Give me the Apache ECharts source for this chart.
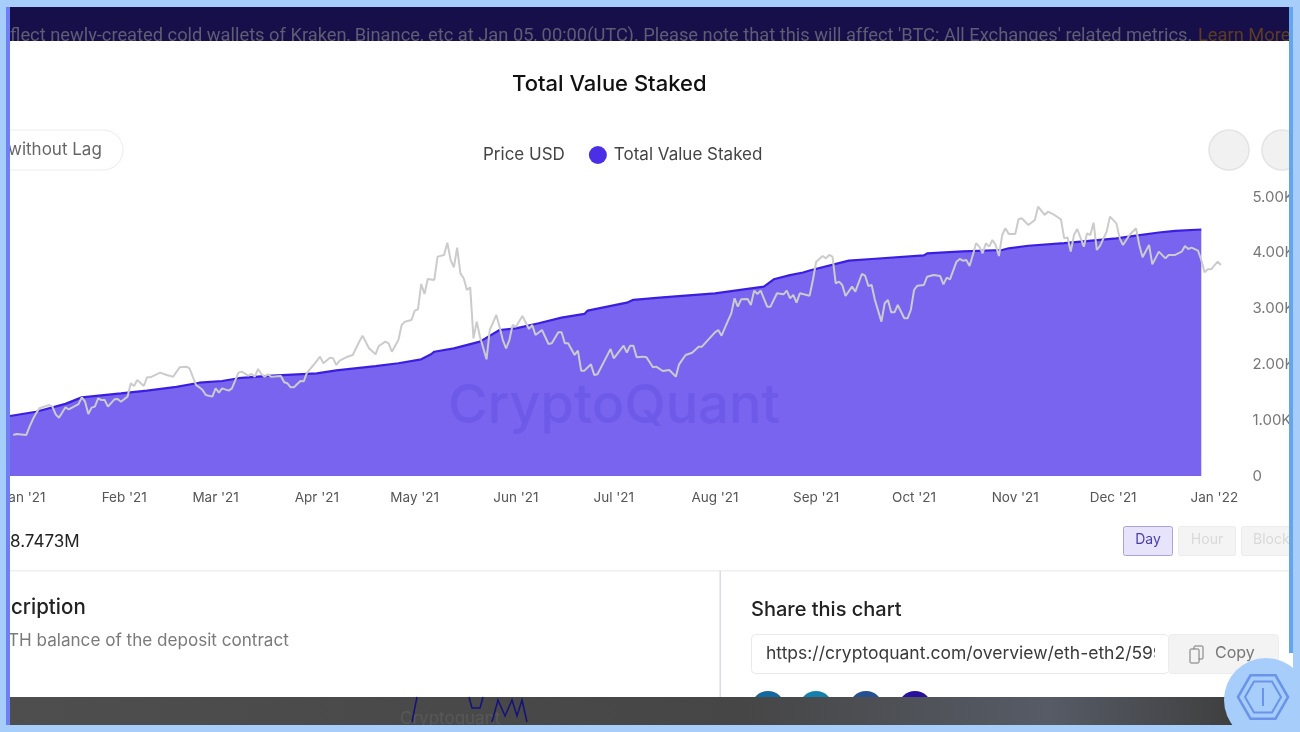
<!DOCTYPE html>
<html><head><meta charset="utf-8">
<style>html,body{margin:0;padding:0;background:#fff}#c{width:1300px;height:732px}</style>
<script src="https://cdn.jsdelivr.net/npm/echarts@6/dist/echarts.min.js"></script>
</head><body><div id="c"></div>
<script>
// Days counted from 1 Jan 2021
const priceDays=[-3,-2,1,2,3,4,5,8,9,10,11,13,14,17,18,19,20,21,22,23,24,25,26,28,29,30,32,33,34,35,37,38,39,42,44,46,48,50,51,53,54,55,56,58,59,60,61,63,64,66,67,69,70,71,72,73,74,75,76,79,80,81,82,83,85,86,87,89,91,92,94,95,96,97,99,101,103,104,106,108,109,111,112,113,115,116,117,119,120,121,122,123,124,126,127,129,130,131,132,133,134,135,136,137,138,139,140,142,143,145,146,147,148,149,150,151,153,155,156,157,159,161,162,164,165,166,167,169,170,171,172,174,175,176,178,180,181,184,185,186,187,188,190,191,193,194,196,198,200,201,203,205,207,208,212,213,214,216,217,218,219,220,222,223,224,225,226,228,229,231,233,234,235,236,237,238,241,242,243,245,246,247,248,249,250,251,252,254,255,257,258,259,260,261,263,264,265,266,267,268,270,271,272,273,274,276,277,279,281,282,283,284,286,287,288,289,290,291,292,293,294,295,296,297,298,299,300,301,302,304,305,306,308,310,311,313,314,316,318,319,320,321,322,323,325,326,327,328,329,330,332,333,335,336,337,339,341,342,343,345,346,348,350,351,353,355,356,357,358,360,361,362,363,364,366,367];
const priceUsd=[735,753,735,884,1016,1123,1213,1272,1243,1105,1045,1231,1195,1290,1410,1332,1111,1225,1243,1392,1362,1362,1243,1374,1380,1332,1422,1661,1613,1720,1613,1768,1768,1852,1810,1780,1948,1960,1930,1631,1589,1541,1452,1422,1571,1494,1571,1529,1571,1852,1870,1798,1828,1780,1918,1828,1780,1822,1780,1792,1679,1661,1589,1589,1703,1697,1852,1989,2139,2019,2121,2109,1989,2067,2127,2169,2407,2515,2288,2181,2330,2407,2378,2228,2437,2706,2766,2796,2963,2987,3441,3262,3531,3513,3931,3961,4182,3871,3740,4092,3632,3543,3333,3381,2467,2766,2497,2091,2617,2885,2676,2437,2288,2437,2706,2676,2868,2635,2706,2527,2617,2366,2378,2575,2575,2378,2378,2169,2246,1888,1888,2001,1810,1822,2049,2276,2109,2336,2210,2336,2336,2127,2139,2127,1948,1960,1882,1900,1780,2001,2169,2210,2318,2318,2575,2617,2515,2784,2915,3184,3035,3166,3172,3065,3322,3262,3322,3035,3035,3274,3256,3322,3184,3244,3106,3274,3232,3513,3841,3943,3901,3961,3931,3453,3483,3423,3226,3393,3304,3620,3590,3405,3423,3154,2766,3095,3154,2933,2933,3065,2826,2826,2975,3333,3411,3423,3572,3602,3584,3435,3555,3525,3841,3889,3859,3871,3764,3961,4170,4110,3991,4170,4110,4230,4140,3943,4319,4439,4337,4337,4600,4618,4498,4588,4827,4678,4737,4678,4600,4259,4277,4021,4319,4427,4110,4349,4319,4540,4050,4128,4379,4648,4528,4259,4140,4319,4439,4140,3919,4140,3793,4021,3901,3961,3961,4021,4122,4068,4092,4038,3871,3650,3704,3704,3841,3782];
const stakedDays=[-4,4,13,18,30,38,47,54,61,66,75,90,96,108,115,122,125,126,132,140,146,151,158,165,172,173,185,187,196,212,227,230,235,239,241,253,260,276,277,288,300,302,308,319,335,341,348,353,361];
const stakedM=[2.13,2.28,2.56,2.79,2.93,3.03,3.16,3.31,3.37,3.47,3.55,3.64,3.75,3.90,4.00,4.14,4.32,4.41,4.53,4.77,5.18,5.24,5.42,5.62,5.75,5.87,6.15,6.25,6.34,6.48,6.72,6.98,7.13,7.22,7.29,7.64,7.70,7.83,7.90,7.97,8.02,8.08,8.17,8.26,8.43,8.53,8.64,8.70,8.7473];
const monthDays=[0,31,59,90,120,151,181,212,243,273,304,334,365];
const monthLabels=["Jan '21","Feb '21","Mar '21","Apr '21","May '21","Jun '21","Jul '21","Aug '21","Sep '21","Oct '21","Nov '21","Dec '21","Jan '22"];

const FONT='Inter';
const LIGHT='#a7cdfa';

function txt(x,y,text,size,fill,extra){return Object.assign({type:'text',silent:true,z:50,style:{x,y:y+1,text,fill,font:(extra&&extra.weight||400)+' '+size+'px '+(extra&&extra.family||FONT),verticalAlign:'middle',align:(extra&&extra.align)||'left'}},extra&&extra.z?{z:extra.z}:{});}
function rect(x,y,w,h,fill,z,stroke,r){return {type:'rect',silent:true,z:z||40,shape:{x,y,width:w,height:h,r:r||0},style:{fill,stroke:stroke||null,lineWidth:stroke?1:0}};}
function circ(cx,cy,r,fill,z,stroke){return {type:'circle',silent:true,z:z||40,shape:{cx,cy,r},style:{fill,stroke:stroke||null,lineWidth:stroke?1.5:0}};}
function hex(cx,cy,r,z,lw){const p=[];for(let i=0;i<6;i++){const a=Math.PI/3*i;p.push([cx+r*Math.cos(a),cy+r*Math.sin(a)]);}
 return {type:'polygon',silent:true,z,shape:{points:p},style:{fill:null,stroke:'#6a93ea',lineWidth:lw}};}

const stripGradient=new echarts.graphic.LinearGradient(0,0,1,0,[
 {offset:0,color:'#4e4e4e'},{offset:0.6,color:'#464646'},{offset:0.85,color:'#565b66'},{offset:1,color:'#3f3f3f'}]);

const overlay=[
 txt(614,406,'CryptoQuant',54,'rgba(72,52,214,0.2)',{weight:500,align:'center'}),
 rect(0,0,1300,41,'#170f4a',60),
 txt(10,35,"flect newly-created cold wallets of Kraken, Binance, etc at Jan 05, 00:00(UTC). Please note that this will affect 'BTC: All Exchanges' related metrics.",18.3,'#5f5c74',{family:'Roboto',z:61}),
 txt(1198,35,'Learn More',18.3,'#5c3d22',{family:'Roboto',z:61}),
 rect(0,41,1300,12,'#ffffff',62),
 rect(-40,130,163,40,'#ffffff',40,'#ececec',20),
 txt(8,149,'without Lag',17,'#666666'),
 circ(1229,150,20,'#f1f1f1',40,'#e4e4e4'),
 circ(1282,150,20,'#f1f1f1',40,'#e4e4e4'),
 txt(10,541,'8.7473M',17,'#222222'),
 rect(1123.5,526.5,49,29,'#e6e3fa',40,'#aaa2e2',2),
 txt(1148,539,'Day',14,'#4a3fa8',{align:'center'}),
 rect(1178.5,526.5,57,29,'#f4f4f4',40,'#ececec',2),
 txt(1207,539,'Hour',14,'#d9d9d9',{align:'center'}),
 rect(1241.5,526.5,60,29,'#f4f4f4',40,'#ececec',2),
 txt(1253,539,'Block',14,'#d9d9d9'),
 rect(10,570,1280,1.5,'#efefef',40),
 txt(11,607,'cription',20.5,'#222222',{weight:500}),
 txt(8,640,'TH balance of the deposit contract',17.1,'#7a7a7a'),
 rect(719.5,571,1.5,126,'#d9d9f0',40),
 txt(751,609,'Share this chart',20,'#222222',{weight:500}),
 rect(751.5,634.5,417,39,'#ffffff',40,'#e9e9e9',4),
 txt(766,653,'https://cryptoquant.com/overview/eth-eth2/599',17.5,'#3a3a3a'),
 rect(1155,636,13,36,'#ffffff',51),
 rect(1168.5,634.5,110,39,'#f3f3f3',52,'#ececec',4),
 rect(1194,646,9,13,'#f3f3f3',53,'#777777',1),
 rect(1190,649,9,14,'#f3f3f3',54,'#777777',1),
 txt(1215,652,'Copy',16,'#777777',{z:55}),
 circ(768,708,17,'#13699f',40),circ(816,708,17,'#1480ad',40),circ(866,708,17,'#26508f',40),circ(915,708,17,'#2a109f',40),
 rect(10,697,1222,28,stripGradient,70),
 rect(1232,697,60,28,'#7f97b8',70),
 txt(400,718,'Cryptoquant',17,'#585858',{z:71}),
 {type:'polyline',silent:true,z:71,shape:{points:[[417,697],[414,712],[412,722]]},style:{stroke:'#16107c',lineWidth:1.5,fill:null}},
 {type:'polyline',silent:true,z:71,shape:{points:[[469,697],[472,708],[480,708],[483,697]]},style:{stroke:'#16107c',lineWidth:1.5,fill:null}},
 {type:'polyline',silent:true,z:71,shape:{points:[[492,722],[498,700],[505,716],[512,700],[517,716],[522,700],[527,722]]},style:{stroke:'#16107c',lineWidth:1.5,fill:null}},
 rect(0,0,1300,7,LIGHT,90),rect(0,725,1300,7,LIGHT,90),
 rect(0,0,6,732,LIGHT,90),rect(6,7,4,718,'#6f80f2',90),
 rect(1293,0,7,732,LIGHT,90),rect(1289,7,4,646,'#64a5ee',90),
 circ(1266,700,42,LIGHT,91),
 hex(1263,697,25,92,2.5),hex(1263,697,18,92,2),
 rect(1262,688,2,18,'#6a93ea',93)
];

const chart=echarts.init(document.getElementById('c'),null,{renderer:'canvas'});
chart.setOption({
 animation:false,
 backgroundColor:'#ffffff',
 textStyle:{fontFamily:FONT},
 title:{text:'Total Value Staked',left:507,top:68,textStyle:{fontFamily:FONT,fontSize:22,fontWeight:500,color:'#111111'}},
 legend:{left:453,top:141,itemWidth:18,itemHeight:18,itemGap:24,icon:'circle',
   textStyle:{fontFamily:FONT,fontSize:17,color:'#444444',padding:[0,0,0,2]},
   data:[{name:'Price USD',itemStyle:{color:'rgba(0,0,0,0)'}},{name:'Total Value Staked',itemStyle:{color:'#4b2fe6'}}]},
 grid:{left:10,right:72.6,top:197,bottom:256,outerBoundsMode:'none'},
 xAxis:{type:'value',min:-4,max:369,
   axisLine:{show:false},axisTick:{show:false},splitLine:{show:false},
   axisLabel:{customValues:monthDays,margin:15,fontSize:13.5,color:'#555555',hideOverlap:false,showMinLabel:true,showMaxLabel:true,
     formatter:v=>monthLabels[monthDays.indexOf(+v)]||''}},
 yAxis:[
  {type:'value',position:'right',min:0,max:5000,interval:1000,
   axisLine:{show:false},axisTick:{show:false},splitLine:{show:false},
   axisLabel:{margin:25,fontSize:15,color:'#777777',align:'left',padding:[4,0,0,0],formatter:v=>v===0?'0':(v/1000).toFixed(2)+'K'}},
  {type:'value',show:false,min:0,max:9.9,splitLine:{show:false}}
 ],
 series:[
  {name:'Total Value Staked',type:'line',yAxisIndex:1,symbol:'none',z:2,
   data:stakedDays.map((d,i)=>[d,stakedM[i]]),
   lineStyle:{color:'#3a1fe0',width:2.2},itemStyle:{color:'#4b2fe6'},
   areaStyle:{color:'#7864ee',opacity:1}},
  {name:'Price USD',type:'line',yAxisIndex:0,symbol:'none',z:3,
   data:priceDays.map((d,i)=>[d,priceUsd[i]]),
   lineStyle:{color:'#cbcbcb',width:2},itemStyle:{color:'#cbcbcb'}}
 ],
 graphic:{elements:overlay}
});
</script></body></html>
